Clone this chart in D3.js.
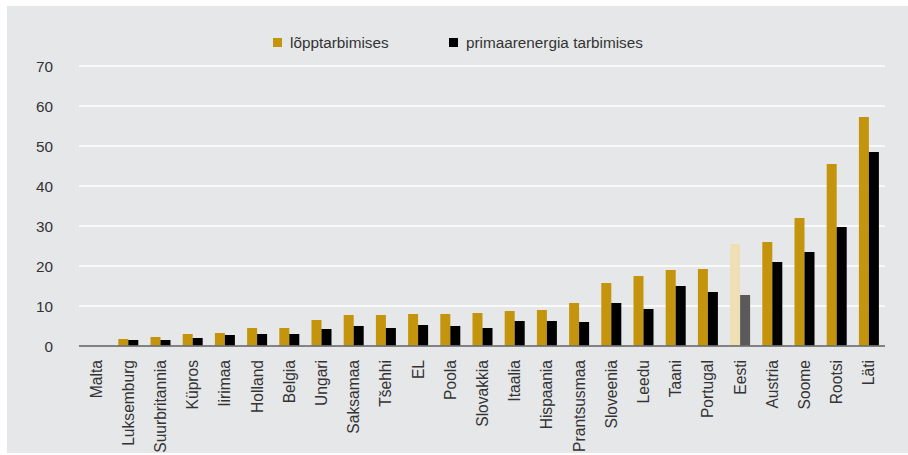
<!DOCTYPE html>
<html>
<head>
<meta charset="utf-8">
<script src="https://cdn.jsdelivr.net/npm/d3@7/dist/d3.min.js"></script>
<style>
  html, body { margin: 0; padding: 0; background: #ffffff; }
  svg { display: block; }
  text { font-family: "Liberation Sans", Arial, Helvetica, sans-serif; fill: #333333; }
</style>
</head>
<body>
<svg id="chart" width="908" height="455"></svg>
<script>
const categories = ["Malta","Luksemburg","Suurbritannia","Küpros","Iirimaa","Holland","Belgia","Ungari","Saksamaa","Tšehhi","EL","Poola","Slovakkia","Itaalia","Hispaania","Prantsusmaa","Sloveenia","Leedu","Taani","Portugal","Eesti","Austria","Soome","Rootsi","Läti"];
const finalConsumption = [0, 1.75, 2.25, 3, 3.25, 4.5, 4.5, 6.5, 7.75, 7.75, 8, 8, 8.25, 8.75, 9, 10.75, 15.75, 17.5, 19, 19.25, 25.5, 26, 32, 45.5, 57.25];
const primaryConsumption = [0, 1.5, 1.5, 2, 2.75, 3, 3, 4.25, 5, 4.5, 5.25, 5, 4.5, 6.25, 6.25, 6, 10.75, 9.25, 15, 13.5, 12.75, 21, 23.5, 29.75, 48.5];
const seriesNames = ["lõpptarbimises", "primaarenergia tarbimises"];
const yTicks = [0, 10, 20, 30, 40, 50, 60, 70];
const highlight = "Eesti";

const svg = d3.select("#chart");
const W = 908, H = 455;

// panel background
svg.append("rect").attr("x", 7).attr("y", 6).attr("width", W - 7).attr("height", 447).attr("fill", "#e6e7e9");

const x = d3.scaleBand().domain(categories).range([80, 885]).paddingInner(0).paddingOuter(0);
const y = d3.scaleLinear().domain([0, 70]).range([346, 66]);

// gridlines
svg.append("g").selectAll("line").data(yTicks.filter(d => d > 0)).join("line")
  .attr("x1", 79).attr("x2", 885)
  .attr("y1", d => y(d)).attr("y2", d => y(d))
  .attr("stroke", "#ffffff").attr("stroke-width", 1.5);

// y axis labels
const yAxis = d3.axisLeft(y).tickValues(yTicks).tickSize(0).tickPadding(0).tickFormat(d3.format("d"));
const yg = svg.append("g").attr("transform", "translate(53,0)").call(yAxis);
yg.select(".domain").remove();
yg.selectAll("text").attr("font-size", 15.3).style("fill", "#333").attr("dy", "0.35em");

const barW = 10;
const colors = ["#c4950c", "#000000"];
const hlColors = ["#eedfb5", "#5a5a5a"];

// bars
const groups = svg.append("g").selectAll("g").data(categories).join("g");
groups.append("rect")
  .attr("x", d => x(d) + x.bandwidth() / 2 - barW)
  .attr("width", barW)
  .attr("y", (d, i) => y(finalConsumption[i]))
  .attr("height", (d, i) => y(0) - y(finalConsumption[i]))
  .attr("fill", d => d === highlight ? hlColors[0] : colors[0]);
groups.append("rect")
  .attr("x", d => x(d) + x.bandwidth() / 2)
  .attr("width", barW)
  .attr("y", (d, i) => y(primaryConsumption[i]))
  .attr("height", (d, i) => y(0) - y(primaryConsumption[i]))
  .attr("fill", d => d === highlight ? hlColors[1] : colors[1]);

// baseline
svg.append("line").attr("x1", 79).attr("x2", 885).attr("y1", y(0)).attr("y2", y(0))
  .attr("stroke", "#707070").attr("stroke-width", 2).attr("stroke-opacity", 0.85);

// x axis labels
const xAxis = d3.axisBottom(x).tickSize(0).tickPadding(0);
const xg = svg.append("g").attr("transform", "translate(0,360)").call(xAxis);
xg.select(".domain").remove();
xg.selectAll("text")
  .attr("font-size", 15.6)
  .style("fill", "#333")
  .attr("text-anchor", "end")
  .attr("transform", "rotate(-90)")
  .attr("x", 0)
  .attr("y", 0)
  .attr("dy", "0.35em");
xg.selectAll(".tick").attr("transform", d => `translate(${x(d) + x.bandwidth() / 2},0)`);

// legend
const legendX = [273, 449];
const leg = svg.append("g").selectAll("g").data(seriesNames).join("g")
  .attr("transform", (d, i) => `translate(${legendX[i]},38)`);
leg.append("rect").attr("width", 9).attr("height", 9).attr("fill", (d, i) => colors[i]);
leg.append("text").attr("x", 17).attr("y", 4.5).attr("dy", "0.35em").attr("font-size", 15.3).text(d => d);
</script>
</body>
</html>
